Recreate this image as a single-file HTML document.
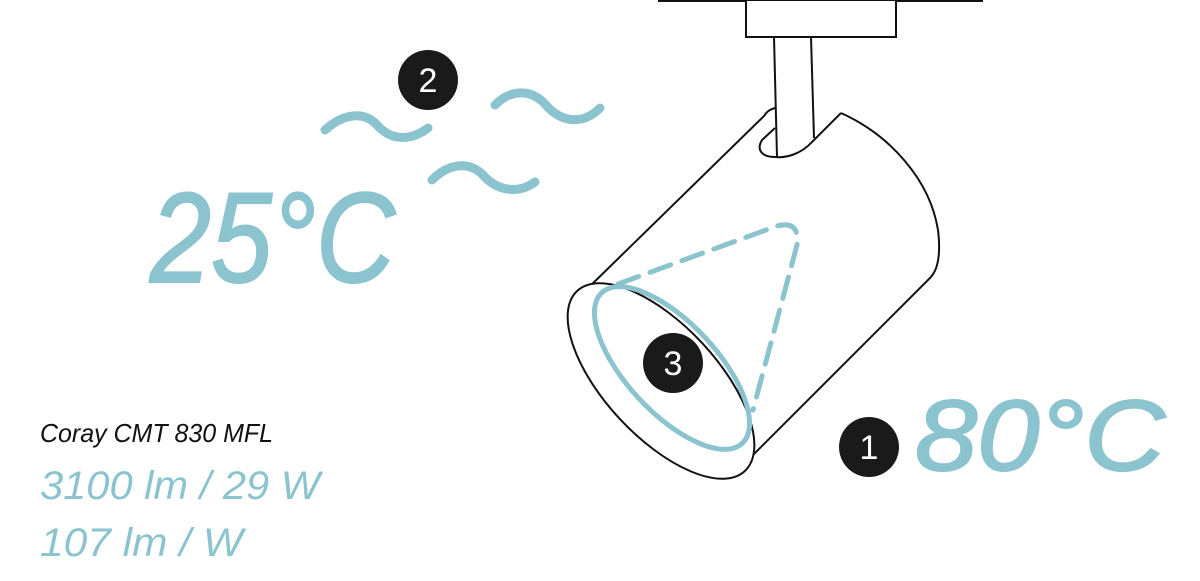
<!DOCTYPE html>
<html><head><meta charset="utf-8"><style>
html,body{margin:0;padding:0;background:#fff;}
svg{display:block}
</style></head><body>
<svg width="1200" height="581" viewBox="0 0 1200 581" xmlns="http://www.w3.org/2000/svg">
<g fill="none" stroke="#111" stroke-width="2">
<line x1="658" y1="0.5" x2="983" y2="0.5" stroke-width="3"/>
<rect x="746" y="0" width="150" height="37" fill="#fff"/>
<line x1="774" y1="37" x2="777" y2="157"/>
<line x1="811" y1="37" x2="814" y2="138"/>
<path d="M775,108 C768,110 766,113 764,116 L585,291"/>
<path d="M841,113 L812,142 C800,155 785,158 775,157 C762,157 756,150 762,140 L775,128"/>
<path d="M841,113 C890,135 930,180 938,230 C941,255 938,270 930,278 L750,458"/>
<ellipse cx="661" cy="381" rx="123" ry="56" transform="rotate(47 661 381)" fill="#fff"/>
</g>
<g fill="none" stroke="#8bc4cf" stroke-width="5" stroke-linecap="round">
<ellipse cx="672" cy="368" rx="103" ry="45" transform="rotate(47 672 368)"/>
<path d="M618,284 L777,226 Q800,220 797,245 L753,410" stroke-dasharray="22 12"/>
</g>
<g fill="none" stroke="#8bc4cf" stroke-width="9" stroke-linecap="round">
<path d="M325,130 C345,112 365,112 377,125 C390,140 410,142 428,128"/>
<path d="M495,105 C512,88 532,90 545,104 C560,122 582,126 600,108"/>
<path d="M432,180 C450,162 470,162 483,175 C496,190 517,195 535,182"/>
</g>
<g fill="#1a1a1a">
<circle cx="428" cy="80" r="30"/>
<circle cx="673" cy="363" r="30"/>
<circle cx="869" cy="447" r="30"/>
</g>
<g fill="#fff" font-family="Liberation Sans, sans-serif" font-size="34" text-anchor="middle">
<text x="428" y="92">2</text>
<text x="673" y="375">3</text>
<text x="869" y="459">1</text>
</g>
<g fill="#8bc4cf" font-family="Liberation Sans, sans-serif" font-style="italic">
<text x="150" y="282" font-size="128" stroke="#8bc4cf" stroke-width="2" textLength="245" lengthAdjust="spacingAndGlyphs">25°C</text>
<text x="915" y="470" font-size="100" stroke="#8bc4cf" stroke-width="2" textLength="250" lengthAdjust="spacingAndGlyphs">80°C</text>
<text x="40" y="499" font-size="40" textLength="280" lengthAdjust="spacingAndGlyphs">3100 lm / 29 W</text>
<text x="40" y="556" font-size="40" textLength="203" lengthAdjust="spacingAndGlyphs">107 lm / W</text>
</g>
<text x="40" y="442" font-family="Liberation Sans, sans-serif" font-style="italic" font-size="26" fill="#111" textLength="233" lengthAdjust="spacingAndGlyphs">Coray CMT 830 MFL</text>
</svg>
</body></html>
